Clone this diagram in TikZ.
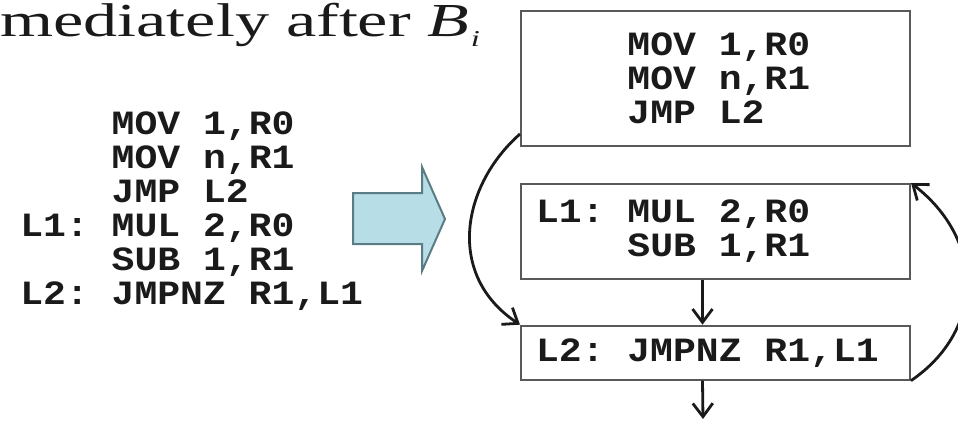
\documentclass[tikz,border=0pt]{standalone}
\usepackage{fontspec}
\setmonofont[FakeStretch=1.12,WordSpace={1,0,0}]{Liberation Mono}
\newfontfamily\titlefont[FakeStretch=1.44]{Liberation Serif}
\usepackage{xcolor}
\usepackage{tikz}
\usetikzlibrary{arrows.meta,positioning}
\definecolor{boxgray}{HTML}{595959}
\definecolor{inkblack}{HTML}{1A1A1A}
\definecolor{arrowfill}{HTML}{B7DDE6}
\definecolor{arrowedge}{HTML}{5B7C84}
\newcommand{\codefont}{\fontsize{25.5pt}{25.5pt}\selectfont\ttfamily\bfseries}
\newcommand{\lab}{\phantom{L1:~}}
\newcommand{\fullsp}{\spaceskip=0pt\xspaceskip=0pt\relax}

\begin{document}
\begin{tikzpicture}[x=0.75pt,y=-0.75pt,
  blockbox/.style={draw=boxgray,line width=1.5pt,text=inkblack,
    text width=269.25pt,inner xsep=11.25pt,inner ysep=0pt,align=left,
    font=\codefont},
  flow/.style={inkblack,line width=2.1pt,
    -{Straight Barb[length=10pt,width=15pt]}}]
\useasboundingbox (0,0) rectangle (958,422);
% title line, cut at the left as on the slide
\node[anchor=base west,inner sep=0pt,text=inkblack] (title) at (0,36)
  {\fontsize{35.5pt}{40pt}\titlefont mediately after \textit{B}\hspace{1pt}%
   \raisebox{-7.5pt}{\fontsize{17pt}{18pt}\selectfont\textit{i}}};
% source listing
\node[anchor=north west,inner sep=0pt,align=left,text=inkblack,font=\codefont]
  (listing) at (20,111) {%
  \lab MOV 1,R0\\
  \lab MOV n,R1\\
  \lab JMP L2\\
  L1: MUL 2,R0\\
  \lab SUB 1,R1\\
  L2: JMPNZ R1,L1};
% block arrow
\draw[fill=arrowfill,draw=arrowedge,line width=1.5pt,line join=miter]
  (353,193) -- (422,193) -- (422,167) -- (445,219) -- (422,271)
  -- (422,244) -- (353,244) -- cycle;
% basic blocks
\node[blockbox,minimum height=101.25pt] (b1) at (715.5,78.5) {\fullsp
  \lab MOV 1,R0\\
  \lab MOV n,R1\\
  \lab JMP L2};
\node[blockbox,minimum height=71.25pt,below=27pt of b1] (b2) {\fullsp
  L1: MUL 2,R0\\
  \lab SUB 1,R1};
\node[blockbox,minimum height=40.5pt,below=33.5pt of b2] (b3) {\fullsp
  L2: JMPNZ R1,L1};
\coordinate (exit) at (703,419);
% edges
\draw[flow] ([xshift=-9.75pt]b2.south) -- ([xshift=-9.75pt]b3.north);
\draw[flow] ([xshift=-9.75pt]b3.south) -- (exit);
\draw[flow] ([yshift=9.75pt]b1.south west)
  .. controls (462,185) and (445,275) .. (b3.north west);
\draw[flow] (b3.south east)
  .. controls (985,330) and (985,240) .. (b2.north east);
\end{tikzpicture}
\end{document}
